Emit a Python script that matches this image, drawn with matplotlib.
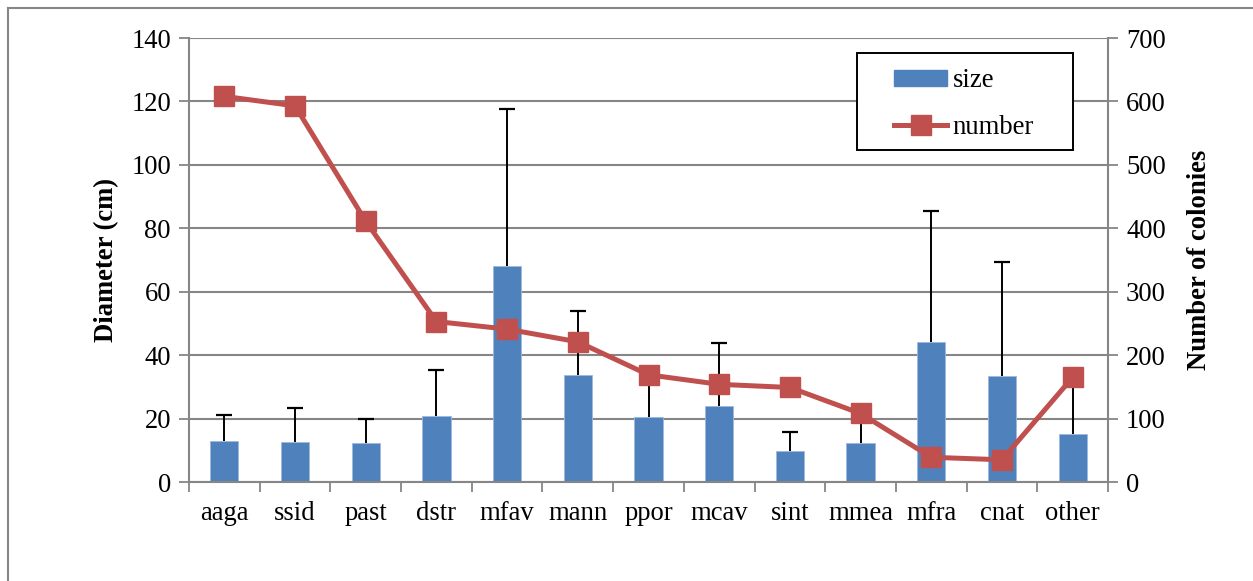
import numpy as np
import matplotlib.pyplot as plt
from matplotlib.lines import Line2D

# species codes and values
species = ["aaga", "ssid", "past", "dstr", "mfav", "mann", "ppor",
           "mcav", "sint", "mmea", "mfra", "cnat", "other"]
size_cm = [12.9, 12.6, 12.4, 20.9, 68.1, 33.8, 20.4, 24.0, 9.8, 12.4, 44.2, 33.3, 15.0]
size_err = [8.2, 10.6, 7.6, 14.4, 49.5, 20.2, 13.0, 19.7, 5.9, 8.5, 41.3, 36.2, 18.0]
n_colonies = [608, 593, 411, 253, 241, 221, 169, 154, 149, 108, 39, 35, 165]

plt.rcParams['font.family'] = ['Liberation Serif', 'DejaVu Serif']
plt.rcParams['font.size'] = 19.2

bar_color = "#4F81BD"
line_color = "#C0504D"
grid_color = "#868686"

W, H = 1253, 581
fig = plt.figure(figsize=(W / 100, H / 100), dpi=100)
ax = fig.add_axes([189 / W, 1 - 482 / H, (1108 - 189) / W, (482 - 38) / H])

x = np.arange(len(species))
ax.bar(x, size_cm, width=0.4, color=bar_color, edgecolor="#9DB9DD",
       linewidth=0.6, zorder=2)
# upper error bars only (whisker + cap)
tops = np.array(size_cm) + np.array(size_err)
ax.vlines(x, size_cm, tops, color="black", linewidth=1.4, zorder=3)
ax.plot(x, tops, linestyle="none", marker="_", markersize=12,
        markeredgewidth=1.6, color="black", zorder=3)

ax.set_xlim(-0.5, len(species) - 0.5)
ax.set_ylim(0, 140)
ax.set_yticks(range(0, 141, 20))
ax.set_xticks(x)
ax.set_xticklabels(species)
ax.set_xticks(np.arange(-0.5, len(species), 1), minor=True)
ax.tick_params(axis="x", which="major", length=0, pad=14)
ax.tick_params(axis="x", which="minor", length=7, color=grid_color, width=1.3)
ax.tick_params(axis="y", length=7, color=grid_color, width=1.3, pad=6)
ax.yaxis.grid(True, color=grid_color, linewidth=1.5, zorder=0)
ax.set_axisbelow(True)
for s in ["top", "right"]:
    ax.spines[s].set_visible(False)
for s in ["left", "bottom"]:
    ax.spines[s].set_color(grid_color)
    ax.spines[s].set_linewidth(1.5)
ax.set_ylabel("Diameter (cm)", fontweight="bold", labelpad=9)

ax2 = ax.twinx()
ax2.plot(x, n_colonies, color=line_color, linewidth=3.6, marker="s",
         markersize=14, zorder=4)
ax2.set_ylim(0, 700)
ax2.set_yticks(range(0, 701, 100))
ax2.tick_params(axis="y", length=7, color=grid_color, width=1.3, pad=6)
for s in ["top", "left", "bottom"]:
    ax2.spines[s].set_visible(False)
ax2.spines["right"].set_color(grid_color)
ax2.spines["right"].set_linewidth(1.5)
ax2.set_ylabel("Number of colonies", fontweight="bold", labelpad=15)

# legend: frameless entries plus a drawn box
handles = [plt.Rectangle((0, 0), 1, 1, color=bar_color),
           Line2D([], [], color=line_color, linewidth=3.6, marker="s", markersize=14)]
leg = ax2.legend(handles, ["size", "number"], loc="upper left",
                 bbox_to_anchor=(894 / W, 1 - 68 / H), bbox_transform=fig.transFigure,
                 frameon=False, handlelength=2.0, handleheight=0.55,
                 handletextpad=0.2, labelspacing=0.82,
                 borderpad=0, borderaxespad=0)
fig.add_artist(plt.Rectangle((857 / W, 1 - 150 / H), (1073 - 857) / W, (150 - 53) / H,
                             transform=fig.transFigure, fill=True, facecolor="white",
                             edgecolor="black", linewidth=1.4, zorder=5))
leg.set_zorder(6)
fig.add_artist(leg)

# outer chart frame (left and top edges)
fig.add_artist(Line2D([8 / W, 8 / W], [0, 1 - 8 / H],
                      color=grid_color, linewidth=1.5, transform=fig.transFigure))
fig.add_artist(Line2D([8 / W, 1], [1 - 8 / H, 1 - 8 / H],
                      color=grid_color, linewidth=1.5, transform=fig.transFigure))

fig.savefig("out.png", dpi=100)
